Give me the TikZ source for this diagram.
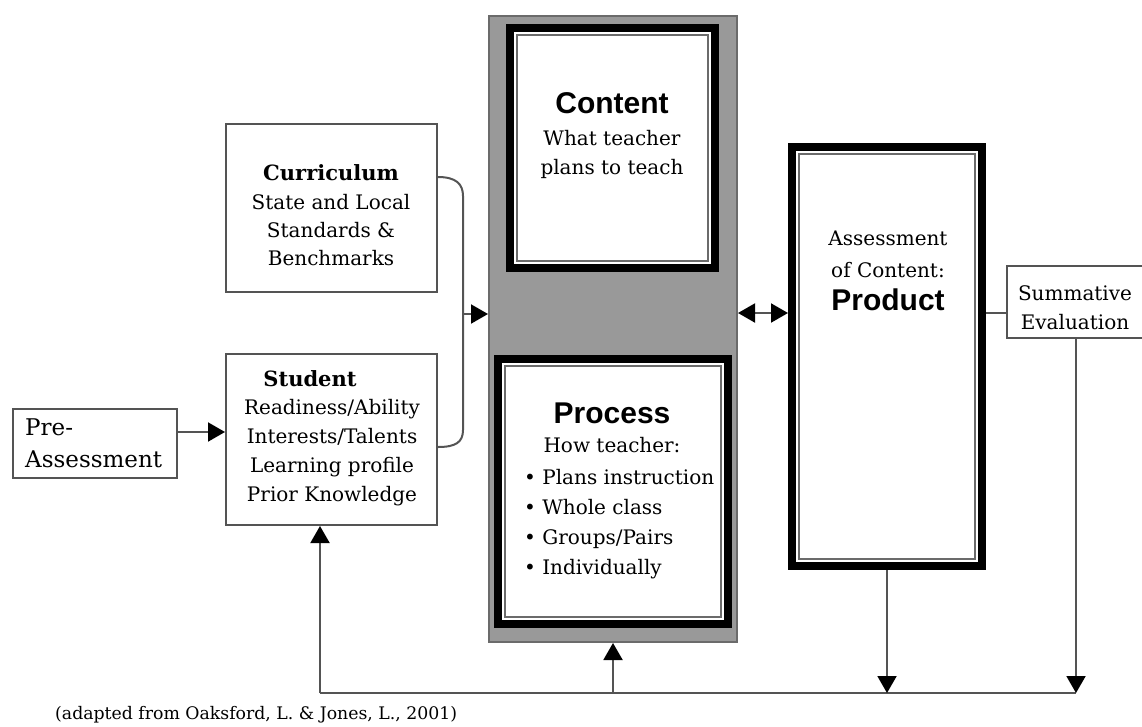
\documentclass[tikz,border=0pt]{standalone}
\usepackage{fontspec}
\setmainfont{DejaVu Serif}
\newfontfamily\headfont{Liberation Sans}
\usetikzlibrary{arrows.meta, calc}

\definecolor{colgray}{gray}{0.6}
\definecolor{edgegray}{gray}{0.42}
\definecolor{linegray}{gray}{0.33}

\tikzset{
  >={Triangle[length=17pt, width=19pt, color=black]},
  column/.style={draw=edgegray, line width=2pt, fill=colgray},
  thinbox/.style={draw=linegray, line width=2pt, fill=white},
  thickbox/.style={draw=black, line width=8pt, fill=white},
  link/.style={draw=linegray, line width=2pt},
  body/.style={anchor=base, inner sep=0pt, font=\fontsize{20}{24}\selectfont},
  bodybold/.style={body, font=\bfseries\fontsize{21}{24}\selectfont},
  head/.style={anchor=base, inner sep=0pt, font=\headfont\bfseries\fontsize{30}{32}\selectfont},
  note/.style={anchor=base west, inner sep=0pt, font=\fontsize{17.3}{20}\selectfont}
}

\begin{document}
\begin{tikzpicture}[x=1pt, y=-1pt]
\useasboundingbox (0,0) rectangle (1142,726);
\clip (0,0) rectangle (1142,726);

% boxes
\node[column, minimum width=248, minimum height=626] (col) at (613,329) {};
\node[thickbox, minimum width=205, minimum height=240] (cont) at (612.5,148) {};
\node[thickbox, minimum width=230, minimum height=265] (proc) at (613,491.5) {};
\node[thickbox, minimum width=190, minimum height=419] (asmt) at (887,356.5) {};
\foreach \b in {cont, proc, asmt}
  \draw[edgegray, line width=1.8pt] ([shift={(11,-11)}]\b.south west) rectangle ([shift={(-11,11)}]\b.north east);
\node[thinbox, minimum width=211, minimum height=168] (curr) at (331.5,208) {};
\node[thinbox, minimum width=211, minimum height=171] (stud) at (331.5,439.5) {};
\node[thinbox, minimum width=164, minimum height=69] (pre) at (95,443.5) {};
\node[thinbox, minimum width=138, minimum height=72] (summ) at (1076,302) {};

% texts
\node[bodybold] (curr-t) at (331,180) {Curriculum};
\foreach \txt [count=\i from 0] in {State and Local, Standards \&, Benchmarks}
  \node[body] (curr-\i) at (331,{209+28*\i}) {\txt};
\node[bodybold] (stud-t) at (310,386) {Student};
\foreach \txt [count=\i from 0] in {Readiness/Ability, Interests/Talents, Learning profile, Prior Knowledge}
  \node[body] (stud-\i) at (332,{414+29*\i}) {\txt};
\node[body, anchor=base west, font=\fontsize{23}{26}\selectfont] (pre-1) at (25,435) {Pre-};
\node[body, anchor=base west, font=\fontsize{23}{26}\selectfont] (pre-2) at (25,467) {Assessment};

\node[head] (cont-t) at (612,113) {Content};
\node[body] (cont-1) at (612,145) {What teacher};
\node[body] (cont-2) at (612,174) {plans to teach};
\node[head] (proc-t) at (612,423) {Process};
\node[body] (proc-h) at (612,452) {How teacher:};
\foreach \txt [count=\i from 0] in {Plans instruction, Whole class, Groups/Pairs, Individually}
  \node[body, anchor=base west] (proc-\i) at (524,{484+30*\i}) {\textbullet{} \txt};

\node[body] (asmt-1) at (888,245) {Assessment};
\node[body] (asmt-2) at (888,277) {of Content:};
\node[head] (asmt-t) at (888,310) {Product};
\node[body] (summ-1) at (1075,300) {Summative};
\node[body] (summ-2) at (1075,329) {Evaluation};

\node[note] (src) at (55,719) {(adapted from Oaksford, L. \& Jones, L., 2001)};

% connectors
\coordinate (brace) at (463,314);
\draw[link] ([yshift=-54pt]curr.north east) .. controls +(18,0) and +(0,-12) .. ($(brace)+(0,-118)$)
  -- ($(brace)+(0,116)$) .. controls +(0,12) and +(18,0) .. ([yshift=-94pt]stud.north east);
\draw[link,->] (brace) -- (brace -| col.west);
\draw[link,<->] ([yshift=16pt]col.east) -- ([yshift=16pt]col.east -| asmt.west);
\draw[link] ([yshift=-11pt]summ.west) -- ([yshift=-11pt]summ.west -| asmt.east);
\draw[link,->] ([yshift=11.5pt]pre.east) -- ([yshift=11.5pt]pre.east -| stud.west);

\coordinate (loopL) at (320,693);
\coordinate (loopR) at (summ.south |- loopL);
\draw[link] (loopL) -- (loopR);
\draw[link,->] (loopL) -- (loopL |- stud.south);
\draw[link,->] (col.south |- loopL) -- (col.south);
\draw[link,->] (asmt.south) -- (asmt.south |- loopL);
\draw[link,->] (summ.south) -- (loopR);
\end{tikzpicture}
\end{document}
